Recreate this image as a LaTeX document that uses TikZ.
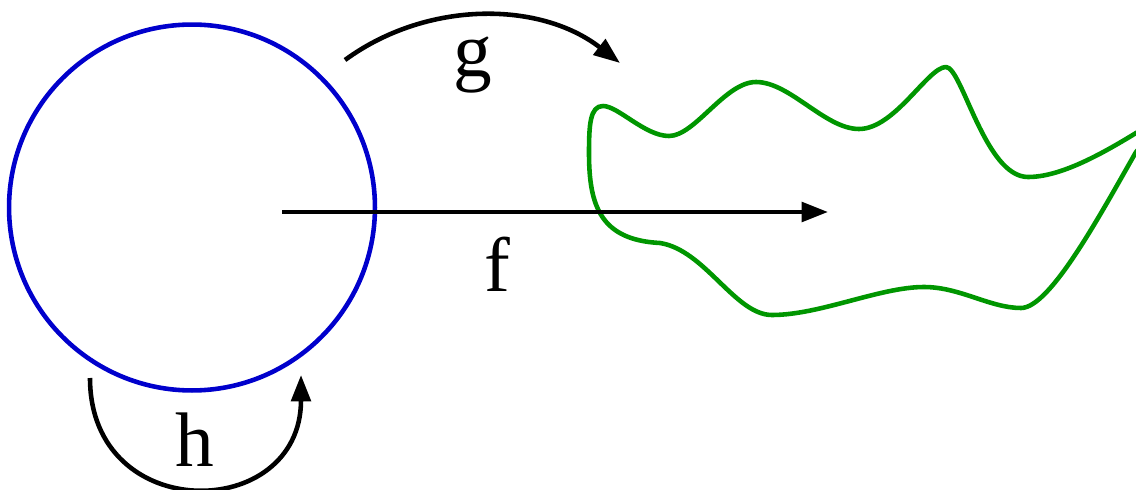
\documentclass[tikz,border=0pt]{standalone}
\usepackage{fontspec}
\setmainfont{Liberation Serif}
\usetikzlibrary{arrows.meta}

\definecolor{circblue}{RGB}{0,0,204}
\definecolor{blobgreen}{RGB}{0,150,0}

\begin{document}
\begin{tikzpicture}[x=0.02cm, y=-0.02cm, line width=2.6pt,
	every node/.style={font=\fontsize{44}{52}\selectfont, inner sep=0pt},
	>={Triangle[length=15pt, width=11pt]}]
	\useasboundingbox (0,0) rectangle (1136,490);
	\clip (0,0) rectangle (1136,490);
	% the disk
	\node[draw=circblue, line width=2.6pt, circle, minimum size=7.32cm] (disk) at (192,207.5) {};
	% the image of the disk
	\draw[blobgreen, line join=round] (603,106)
		.. controls (618,106) and (645,136) .. (669,136)
		.. controls (695,136) and (725,82) .. (756,82)
		.. controls (790,82) and (825,129) .. (859,129)
		.. controls (895,129) and (928,67) .. (946,67)
		.. controls (962,67) and (985,177) .. (1028,177)
		.. controls (1060,177) and (1100,155) .. (1136,133) -- (1175,110)
		-- (1136,152)
		.. controls (1100,215) and (1050,308) .. (1021,308)
		.. controls (990,308) and (960,287) .. (924,287)
		.. controls (880,287) and (820,315) .. (772,315)
		.. controls (735,315) and (705,250) .. (660,243)
		.. controls (600,240) and (589,205) .. (589,153)
		.. controls (589,125) and (590,106) .. cycle;
	% maps
	\coordinate (fs) at (282,212);
	\coordinate (fe) at (828,212);
	\coordinate (gs) at (345,60);
	\coordinate (ge) at (620,63);
	\coordinate (hs) at (90,378);
	\coordinate (he) at (301,375);
	\draw[->] (fs) -- (fe);
	\draw[->] (gs) .. controls +(82,-60) and +(-80,-62) .. (ge);
	\draw[->] (hs) .. controls +(0,148) and +(0,148) .. (he);
	\node[anchor=base] (flabel) at (497,291) {f};
	\node[anchor=base] (glabel) at (473,76) {g};
	\node[anchor=base] (hlabel) at (195,466) {h};
\end{tikzpicture}
\end{document}
